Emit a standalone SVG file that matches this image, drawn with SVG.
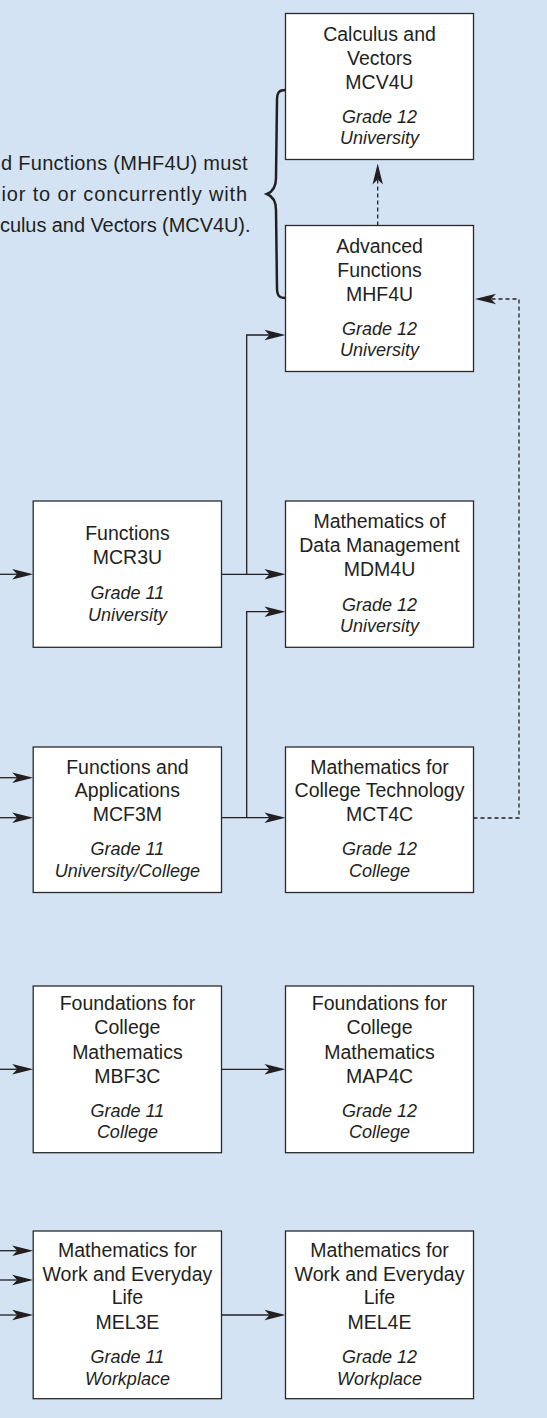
<svg xmlns="http://www.w3.org/2000/svg" width="547" height="1418" viewBox="0 0 547 1418">
  <style>
    .bg { fill: #d3e3f3; }
    .node rect { fill: #ffffff; stroke: #2b2a2b; stroke-width: 1.3; }
    .t { font-family: "Liberation Sans", Arial, sans-serif; font-size: 19.5px; fill: #231f20; text-anchor: middle; }
    .i { font-style: italic; font-size: 18px; }
    .note { font-family: "Liberation Sans", Arial, sans-serif; font-size: 20px; fill: #231f20; }
    .c { fill: none; stroke: #231f20; stroke-width: 1.3; }
    .d { stroke-dasharray: 4 3; }
    .brace { fill: none; stroke: #231f20; stroke-width: 2.5; stroke-linecap: round; }
  </style>
  <defs>
    <!-- notched arrowhead; the path end sits 10px behind the tip -->
    <marker id="arr" viewBox="-12 -6 23 12" markerWidth="23" markerHeight="12" refX="0" refY="0" orient="auto" markerUnits="userSpaceOnUse" overflow="visible">
      <path d="M10,0 L-11,-5.2 L-6,0 L-11,5.2 Z" fill="#231f20"/>
    </marker>
  </defs>

  <rect class="bg" x="0" y="0" width="547" height="1418"/>

  <!-- note with brace -->
  <g id="note">
    <text class="note" x="1" y="170.3" textLength="246.5" lengthAdjust="spacing">d Functions (MHF4U) must</text>
    <text class="note" x="1.5" y="201" textLength="245.5" lengthAdjust="spacing">ior to or concurrently with</text>
    <text class="note" x="0" y="231.7" textLength="250.5" lengthAdjust="spacing">culus and Vectors (MCV4U).</text>
    <path class="brace" d="M285.5,90 C279.5,90 277,92 277,100 L276,178 C276,188 272,192 267,194 C272,196 276,200 276,210 L277,288 C277,296 279.5,298 285.5,298"/>
  </g>

  <!-- connectors -->
  <g id="connectors">
    <!-- incoming from the left edge -->
    <path class="c" d="M0,574.3 H23.2" marker-end="url(#arr)"/>
    <path class="c" d="M0,777.7 H23.2" marker-end="url(#arr)"/>
    <path class="c" d="M0,817.7 H23.2" marker-end="url(#arr)"/>
    <path class="c" d="M0,1069.3 H23.2" marker-end="url(#arr)"/>
    <path class="c" d="M0,1250.7 H23.2" marker-end="url(#arr)"/>
    <path class="c" d="M0,1280 H23.2" marker-end="url(#arr)"/>
    <path class="c" d="M0,1315 H23.2" marker-end="url(#arr)"/>

    <!-- MCR3U to MDM4U and MHF4U -->
    <path class="c" d="M221.5,574.3 H275.5" marker-end="url(#arr)"/>
    <path class="c" d="M246.7,574.3 V335 H275.5" marker-end="url(#arr)"/>

    <!-- MCF3M to MCT4C and MDM4U -->
    <path class="c" d="M221.5,817.7 H275.5" marker-end="url(#arr)"/>
    <path class="c" d="M246.7,817.7 V611.7 H275.5" marker-end="url(#arr)"/>

    <!-- MBF3C to MAP4C, MEL3E to MEL4E -->
    <path class="c" d="M221.5,1069.3 H275.5" marker-end="url(#arr)"/>
    <path class="c" d="M221.5,1315 H275.5" marker-end="url(#arr)"/>

    <!-- dashed: MHF4U to MCV4U -->
    <path class="c d" d="M377.7,225.5 V173.5" marker-end="url(#arr)"/>
    <!-- dashed: MCT4C to MHF4U -->
    <path class="c d" d="M473.5,818 H519 V299 H485" marker-end="url(#arr)"/>
  </g>

  <g id="MCV4U" class="node">
    <rect x="285.5" y="13.5" width="188" height="146"/>
    <text class="t"><tspan x="379.5" y="40.7">Calculus and</tspan><tspan x="379.5" y="64.5">Vectors</tspan><tspan x="379.5" y="88.7">MCV4U</tspan></text>
    <text class="t i"><tspan x="379.5" y="122.7">Grade 12</tspan><tspan x="379.5" y="144">University</tspan></text>
  </g>

  <g id="MHF4U" class="node">
    <rect x="285.5" y="225.5" width="188" height="146"/>
    <text class="t"><tspan x="379.5" y="253">Advanced</tspan><tspan x="379.5" y="276.7">Functions</tspan><tspan x="379.5" y="300.5">MHF4U</tspan></text>
    <text class="t i"><tspan x="379.5" y="334.8">Grade 12</tspan><tspan x="379.5" y="356">University</tspan></text>
  </g>

  <g id="MCR3U" class="node">
    <rect x="33.2" y="501" width="188.3" height="146.3"/>
    <text class="t"><tspan x="127.4" y="540">Functions</tspan><tspan x="127.4" y="564">MCR3U</tspan></text>
    <text class="t i"><tspan x="127.4" y="599">Grade 11</tspan><tspan x="127.4" y="620.5">University</tspan></text>
  </g>

  <g id="MDM4U" class="node">
    <rect x="285.5" y="501" width="188" height="146.3"/>
    <text class="t"><tspan x="379.5" y="528">Mathematics of</tspan><tspan x="379.5" y="552">Data Management</tspan><tspan x="379.5" y="576">MDM4U</tspan></text>
    <text class="t i"><tspan x="379.5" y="610.5">Grade 12</tspan><tspan x="379.5" y="631.7">University</tspan></text>
  </g>

  <g id="MCF3M" class="node">
    <rect x="33.2" y="747" width="188.3" height="145.5"/>
    <text class="t"><tspan x="127.4" y="773.5">Functions and</tspan><tspan x="127.4" y="797">Applications</tspan><tspan x="127.4" y="821">MCF3M</tspan></text>
    <text class="t i"><tspan x="127.4" y="855.2">Grade 11</tspan><tspan x="127.4" y="876.7">University/College</tspan></text>
  </g>

  <g id="MCT4C" class="node">
    <rect x="285.5" y="747" width="188" height="145.5"/>
    <text class="t"><tspan x="379.5" y="773.5">Mathematics for</tspan><tspan x="379.5" y="797">College Technology</tspan><tspan x="379.5" y="821">MCT4C</tspan></text>
    <text class="t i"><tspan x="379.5" y="855.2">Grade 12</tspan><tspan x="379.5" y="876.7">College</tspan></text>
  </g>

  <g id="MBF3C" class="node">
    <rect x="33.2" y="986" width="188.3" height="166.7"/>
    <text class="t"><tspan x="127.4" y="1010.3">Foundations for</tspan><tspan x="127.4" y="1034.3">College</tspan><tspan x="127.4" y="1059">Mathematics</tspan><tspan x="127.4" y="1082.7">MBF3C</tspan></text>
    <text class="t i"><tspan x="127.4" y="1116.7">Grade 11</tspan><tspan x="127.4" y="1138.3">College</tspan></text>
  </g>

  <g id="MAP4C" class="node">
    <rect x="285.5" y="986" width="188" height="166.7"/>
    <text class="t"><tspan x="379.5" y="1010.3">Foundations for</tspan><tspan x="379.5" y="1034.3">College</tspan><tspan x="379.5" y="1059">Mathematics</tspan><tspan x="379.5" y="1082.7">MAP4C</tspan></text>
    <text class="t i"><tspan x="379.5" y="1116.7">Grade 12</tspan><tspan x="379.5" y="1138.3">College</tspan></text>
  </g>

  <g id="MEL3E" class="node">
    <rect x="33.2" y="1231" width="188.3" height="167.7"/>
    <text class="t"><tspan x="127.4" y="1256.7">Mathematics for</tspan><tspan x="127.4" y="1280.7">Work and Everyday</tspan><tspan x="127.4" y="1304.3">Life</tspan><tspan x="127.4" y="1329">MEL3E</tspan></text>
    <text class="t i"><tspan x="127.4" y="1363.3">Grade 11</tspan><tspan x="127.4" y="1385">Workplace</tspan></text>
  </g>

  <g id="MEL4E" class="node">
    <rect x="285.5" y="1231" width="188" height="167.7"/>
    <text class="t"><tspan x="379.5" y="1256.7">Mathematics for</tspan><tspan x="379.5" y="1280.7">Work and Everyday</tspan><tspan x="379.5" y="1304.3">Life</tspan><tspan x="379.5" y="1329">MEL4E</tspan></text>
    <text class="t i"><tspan x="379.5" y="1363.3">Grade 12</tspan><tspan x="379.5" y="1385">Workplace</tspan></text>
  </g>
</svg>
